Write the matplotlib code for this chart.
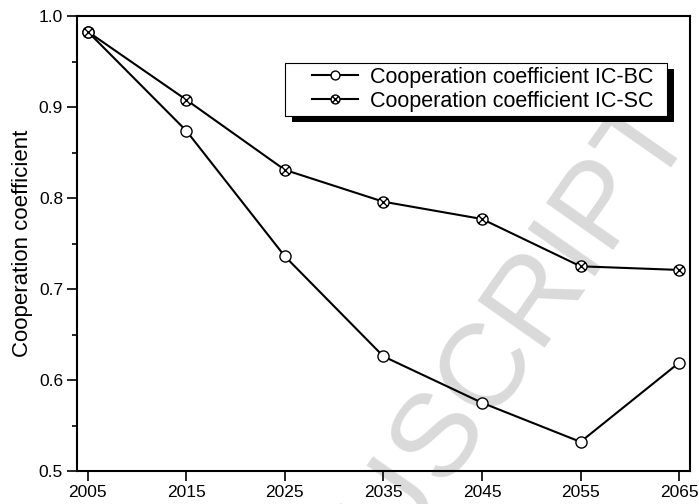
import matplotlib
matplotlib.use("Agg")
import matplotlib.pyplot as plt
import matplotlib.patches as patches
from matplotlib.path import Path
from matplotlib.transforms import IdentityTransform

plt.rcParams['font.family'] = ['Liberation Sans', 'DejaVu Sans']

years = [2005, 2015, 2025, 2035, 2045, 2055, 2065]
coef_bc = [0.983, 0.874, 0.736, 0.626, 0.575, 0.532, 0.619]
coef_sc = [0.983, 0.908, 0.831, 0.796, 0.777, 0.725, 0.721]
label_bc = "Cooperation coefficient IC-BC"
label_sc = "Cooperation coefficient IC-SC"

# circle with a cross inside
d = 0.7071
cross = Path([[-d, -d], [d, d], [-d, d], [d, -d]],
             [Path.MOVETO, Path.LINETO, Path.MOVETO, Path.LINETO])
circle_x = Path.make_compound_path(Path.unit_circle(), cross)

fig = plt.figure(figsize=(6.99, 5.04), dpi=100)
ax = fig.add_axes([0.110, 0.0655, 0.877, 0.9025])

ax.plot(years, coef_bc, color='black', lw=1.5, marker='o', ms=8,
        mfc='white', mec='black', mew=1.0, label=label_bc, zorder=3)
ax.plot(years, coef_sc, color='black', lw=1.5, marker=circle_x, ms=8,
        mfc='white', mec='black', mew=1.0, label=label_sc, zorder=3)

ax.set_xlim(2003.9, 2066.1)
ax.set_ylim(0.5, 1.0)
ax.set_xticks(years)
ax.set_yticks([0.5, 0.6, 0.7, 0.8, 0.9, 1.0])
ax.set_yticks([0.55, 0.65, 0.75, 0.85, 0.95], minor=True)
ax.tick_params(axis='both', which='major', direction='out', length=7, width=1.2,
               labelsize=12.5)
ax.tick_params(axis='y', which='minor', direction='out', length=3.8, width=1.2)
ax.tick_params(axis='x', pad=3)
ax.tick_params(axis='y', pad=3)
for s in ax.spines.values():
    s.set_linewidth(1.5)
ax.set_ylabel("Cooperation coefficient", fontsize=16, labelpad=4)

leg = ax.legend(loc='upper right', bbox_to_anchor=(653, 437), bbox_transform=IdentityTransform(),
                fontsize=15.5, frameon=False, borderpad=0,
                handlelength=2.1, handletextpad=0.55, labelspacing=0.12,
                borderaxespad=0, markerscale=0.8)
leg.set_zorder(7)

# legend frame plus a solid black drop shadow
fig.canvas.draw()
bb = leg.get_window_extent()
x0, y0 = bb.x0 - 27, bb.y0 - 4
w, h = bb.x1 + 14 - x0, bb.y1 + 4 - y0
shadow = patches.Rectangle((x0 + 7, y0 - 6), w, h, transform=IdentityTransform(),
                           facecolor='black', edgecolor='none', zorder=5)
frame = patches.Rectangle((x0, y0), w, h, transform=IdentityTransform(),
                          facecolor='white', edgecolor='black', lw=0.8, zorder=6)
ax.add_artist(shadow)
ax.add_artist(frame)

# light grey watermark behind the data
wm = dict(transform=fig.transFigure, fontsize=86, color='#dadada', rotation=55,
          va='baseline', rotation_mode='anchor', zorder=0, clip_on=False)
ax.text(0.633, 0.034, "SCRIPT", ha='left', **wm)
ax.text(0.633, 0.034, "MANU", ha='right', **wm)

fig.savefig("out.png", dpi=100)
